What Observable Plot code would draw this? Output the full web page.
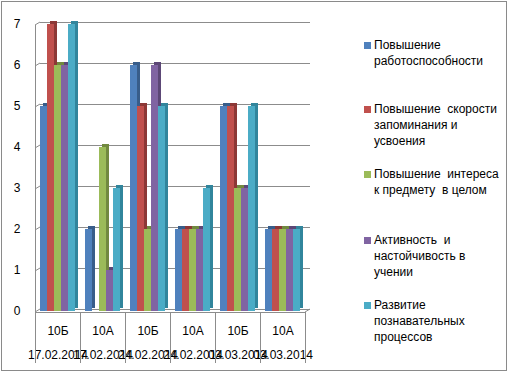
<!DOCTYPE html>
<html>
<head>
<meta charset="utf-8">
<script src="https://cdn.jsdelivr.net/npm/d3@7"></script>
<script src="https://cdn.jsdelivr.net/npm/@observablehq/plot@0.6"></script>
<style>
  html, body { margin: 0; padding: 0; background: #fff; }
  #wrap { position: relative; width: 510px; height: 375px; overflow: hidden; font-family: "Liberation Sans", Arial, sans-serif; }
  #border { position: absolute; left: 1px; top: 1px; width: 506px; height: 370px; border: 1px solid #8a8a8a; box-sizing: border-box; pointer-events: none; }
  #chart { position: absolute; left: 0; top: 0; }
  #legend { position: absolute; left: 364px; top: 0; }
  .item { position: absolute; left: 0; width: 140px; }
  .sw { position: absolute; left: 0; top: 5px; width: 7px; height: 7px; }
  .lbl { position: absolute; left: 10px; top: 0; font-size: 12px; line-height: 16px; white-space: pre; color: #000; }
</style>
</head>
<body>
<div id="wrap">
  <div id="chart"></div>
  <div id="legend"></div>
  <div id="border"></div>
</div>
<script>
// ---- data ----
const groupClasses = ["10Б", "10А", "10Б", "10А", "10Б", "10А"];
const groupDates = ["17.02.2014", "17.02.2014", "24.02.2014", "24.02.2014", "03.03.2014", "03.03.2014"];
const seriesNames = [
  "Повышение\nработоспособности",
  "Повышение  скорости\nзапоминания и\nусвоения",
  "Повышение  интереса\nк предмету  в целом",
  "Активность  и\nнастойчивость в\nучении",
  "Развитие\nпознавательных\nпроцессов"
];
const seriesColors = ["#4F81BD", "#C0504D", "#9BBB59", "#8064A2", "#4BACC6"];
const seriesSideColors = ["#385D8A", "#8C3836", "#71893F", "#5C4776", "#31859C"];
const valuesWork = [5, 2, 6, 2, 5, 2];
const valuesSpeed = [7, 0, 5, 2, 5, 2];
const valuesInterest = [6, 4, 2, 2, 3, 2];
const valuesActivity = [6, 1, 6, 2, 3, 2];
const valuesCognitive = [7, 3, 5, 3, 5, 2];
const yTicks = [0, 1, 2, 3, 4, 5, 6, 7];

const seriesValues = [valuesWork, valuesSpeed, valuesInterest, valuesActivity, valuesCognitive];
const groupIdx = groupClasses.map((_, i) => i);
const rows = [];
seriesValues.forEach((vals, si) => vals.forEach((v, gi) => rows.push({g: gi, s: si, v})));
const dateRows = groupIdx.map(i => ({g: i, date: groupDates[i]}));

const plot = Plot.plot({
  width: 510,
  height: 375,
  marginLeft: 32,
  marginRight: 203,
  marginTop: 24,
  marginBottom: 64,
  style: {fontFamily: "Liberation Sans, Arial, sans-serif", fontSize: "12px", color: "#000", background: "transparent", overflow: "visible"},
  fx: {domain: groupIdx, padding: 0, label: null, tickSize: 0, tickPadding: 15, tickFormat: i => groupClasses[i]},
  x: {domain: seriesNames.map((_, i) => i), paddingInner: 0, paddingOuter: 0.7, axis: null},
  y: {domain: [0, 7], ticks: yTicks, tickSize: 0, tickPadding: 15, label: null, tickFormat: d => String(d)},
  color: {type: "identity"},
  marks: [
    Plot.ruleY(yTicks, {stroke: "#8c8c8c", strokeWidth: 1, dx: 5, dy: -2}),
    Plot.barY(rows, {fx: "g", x: "s", y: "v", fill: d => seriesSideColors[d.s], dx: 3, dy: -3}),
    Plot.barY(rows, {fx: "g", x: "s", y: "v", fill: d => seriesColors[d.s]}),
    Plot.text(dateRows, {fx: "g", text: "date", frameAnchor: "bottom", dy: 47, fontSize: 12, fill: "#000"})
  ]
});

// decorations: axis walls and category separators, positioned from the Plot scales
const fxS = plot.scale("fx");
const yS = plot.scale("y");
const bw = fxS.bandwidth;
const x0 = fxS.apply(0);
const xEnd = fxS.apply(groupIdx[groupIdx.length - 1]) + bw;
const y0 = yS.apply(0);
const svg = d3.select(plot);
const g = svg.append("g").attr("stroke", "#8c8c8c").attr("stroke-width", 1).attr("fill", "none");
g.append("line").attr("x1", x0 + 0.5).attr("x2", x0 + 0.5).attr("y1", y0 + 1).attr("y2", yS.apply(7) + 1);
yTicks.forEach(t => {
  const yy = yS.apply(t);
  g.append("line").attr("x1", x0).attr("y1", yy + 1).attr("x2", x0 + 5).attr("y2", yy - 2);
});
g.append("line").attr("x1", x0).attr("x2", xEnd).attr("y1", y0 + 1.5).attr("y2", y0 + 1.5);
g.append("line").attr("x1", xEnd).attr("y1", y0 + 1).attr("x2", xEnd + 5).attr("y2", y0 - 2);
groupIdx.concat([groupIdx.length]).forEach(i => {
  const xx = (i < groupIdx.length ? fxS.apply(i) : xEnd) + 0.5;
  g.append("line").attr("x1", xx).attr("x2", xx).attr("y1", y0 + 1).attr("y2", y0 + 52);
});

document.getElementById("chart").appendChild(plot);

// legend
const legendTops = [37, 101, 166, 232, 297];
const legend = document.getElementById("legend");
seriesNames.forEach((name, i) => {
  const item = document.createElement("div");
  item.className = "item";
  item.style.top = legendTops[i] + "px";
  const sw = document.createElement("div");
  sw.className = "sw";
  sw.style.background = seriesColors[i];
  const lbl = document.createElement("div");
  lbl.className = "lbl";
  lbl.textContent = name;
  item.appendChild(sw);
  item.appendChild(lbl);
  legend.appendChild(item);
});
</script>
</body>
</html>
